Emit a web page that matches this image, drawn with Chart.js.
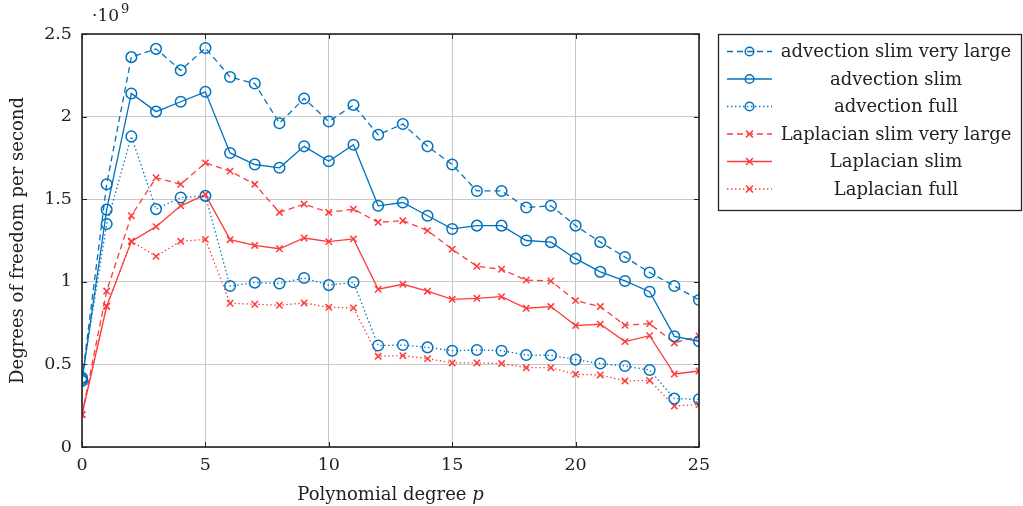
<!DOCTYPE html>
<html>
<head>
<meta charset="utf-8">
<script src="https://cdn.jsdelivr.net/npm/chart.js@4"></script>
<style>
  html, body { margin: 0; padding: 0; background: #fff; }
  #wrap { width: 1023px; height: 506px; }
</style>
</head>
<body>
<div id="wrap"><canvas id="dofChart" width="1023" height="506"></canvas></div>
<script>
// values in units of 1e9 DoF/s
const DEGREES = [0,1,2,3,4,5,6,7,8,9,10,11,12,13,14,15,16,17,18,19,20,21,22,23,24,25];
const ADV_SLIM_VL = [0.41,1.59,2.36,2.41,2.28,2.415,2.24,2.20,1.96,2.11,1.97,2.07,1.89,1.955,1.82,1.71,1.55,1.55,1.45,1.46,1.34,1.24,1.15,1.056,0.975,0.89];
const ADV_SLIM    = [0.40,1.437,2.14,2.03,2.09,2.15,1.78,1.71,1.69,1.82,1.73,1.83,1.46,1.48,1.40,1.32,1.34,1.34,1.25,1.24,1.14,1.06,1.005,0.94,0.67,0.64];
const ADV_FULL    = [0.42,1.35,1.88,1.44,1.51,1.52,0.975,0.995,0.99,1.023,0.98,0.997,0.614,0.617,0.603,0.583,0.587,0.583,0.557,0.555,0.529,0.505,0.49,0.466,0.293,0.289];
const LAP_SLIM_VL = [0.196,0.944,1.40,1.63,1.59,1.72,1.67,1.59,1.42,1.47,1.42,1.44,1.36,1.37,1.31,1.197,1.094,1.076,1.01,1.005,0.886,0.85,0.737,0.747,0.63,0.672];
const LAP_SLIM    = [0.196,0.852,1.245,1.334,1.46,1.528,1.255,1.22,1.20,1.265,1.243,1.26,0.955,0.985,0.943,0.894,0.90,0.91,0.84,0.85,0.735,0.743,0.638,0.674,0.442,0.46];
const LAP_FULL    = [0.196,0.852,1.245,1.154,1.245,1.257,0.87,0.864,0.858,0.872,0.846,0.842,0.549,0.553,0.535,0.509,0.509,0.505,0.48,0.48,0.44,0.436,0.40,0.403,0.248,0.257];
const X_TICKS = [0, 5, 10, 15, 20, 25];
const Y_TICKS = [0, 0.5, 1, 1.5, 2, 2.5];

const BLUE = '#0072bd';
const RED = '#ff3a3a';
const FONT = '"DejaVu Serif", serif';
const DASH = [6, 4];
const DOT = [1.4, 2.6];

const pts = arr => arr.map((v, i) => ({ x: DEGREES[i], y: v }));

function series(label, data, color, dash, marker) {
  return {
    label, data: pts(data),
    borderColor: color, backgroundColor: 'rgba(0,0,0,0)',
    borderWidth: 1.3, borderDash: dash,
    pointStyle: marker, pointRadius: marker === 'circle' ? 5.3 : 4.5,
    pointBorderColor: color, pointBackgroundColor: 'rgba(0,0,0,0)',
    pointBorderWidth: 1.5, tension: 0,
  };
}

const datasets = [
  series('advection slim very large', ADV_SLIM_VL, BLUE, DASH, 'circle'),
  series('advection slim', ADV_SLIM, BLUE, [], 'circle'),
  series('advection full', ADV_FULL, BLUE, DOT, 'circle'),
  series('Laplacian slim very large', LAP_SLIM_VL, RED, DASH, 'crossRot'),
  series('Laplacian slim', LAP_SLIM, RED, [], 'crossRot'),
  series('Laplacian full', LAP_FULL, RED, DOT, 'crossRot'),
];

// frame, inner tick marks, exponent label, x title and the boxed legend
const decorations = {
  id: 'decorations',
  afterDatasetsDraw(chart) {
    const { ctx, chartArea: a, scales } = chart;
    ctx.save();
    ctx.strokeStyle = '#222';
    ctx.lineWidth = 1;
    X_TICKS.forEach(t => {
      const x = Math.round(scales.x.getPixelForValue(t)) + 0.5;
      ctx.beginPath(); ctx.moveTo(x, a.bottom); ctx.lineTo(x, a.bottom - 5); ctx.stroke();
      ctx.beginPath(); ctx.moveTo(x, a.top); ctx.lineTo(x, a.top + 5); ctx.stroke();
    });
    Y_TICKS.forEach(t => {
      const y = Math.round(scales.y.getPixelForValue(t)) + 0.5;
      ctx.beginPath(); ctx.moveTo(a.left, y); ctx.lineTo(a.left + 5, y); ctx.stroke();
      ctx.beginPath(); ctx.moveTo(a.right, y); ctx.lineTo(a.right - 5, y); ctx.stroke();
    });
    ctx.lineWidth = 1.6;
    ctx.strokeRect(a.left, a.top, a.right - a.left, a.bottom - a.top);

    ctx.fillStyle = '#222';
    ctx.textBaseline = 'alphabetic';
    ctx.textAlign = 'left';
    ctx.font = '17px ' + FONT;
    ctx.fillText('·10', 92, 21);
    ctx.font = '13px ' + FONT;
    ctx.fillText('9', 121, 13);

    ctx.font = '18px ' + FONT;
    const t1 = 'Polynomial degree ';
    const w1 = ctx.measureText(t1).width;
    ctx.font = 'italic 18px ' + FONT;
    const w2 = ctx.measureText('p').width;
    const x0 = (a.left + a.right) / 2 - (w1 + w2) / 2;
    ctx.font = '18px ' + FONT;
    ctx.fillText(t1, x0, 500);
    ctx.font = 'italic 18px ' + FONT;
    ctx.fillText('p', x0 + w1, 500);

    // legend
    const lx = 718, ly = 34, lw = 304, lh = 176;
    ctx.lineWidth = 1.3;
    ctx.strokeStyle = '#222';
    ctx.strokeRect(lx + 0.5, ly + 0.5, lw - 1, lh);
    ctx.font = '18px ' + FONT;
    ctx.textAlign = 'center';
    ctx.textBaseline = 'middle';
    datasets.forEach((ds, i) => {
      const y = ly + 17.5 + i * 27.5;
      ctx.strokeStyle = ds.borderColor;
      ctx.lineWidth = 1.3;
      ctx.setLineDash(ds.borderDash);
      ctx.beginPath(); ctx.moveTo(727, y); ctx.lineTo(772, y); ctx.stroke();
      ctx.setLineDash([]);
      ctx.lineWidth = 1.5;
      if (ds.pointStyle === 'circle') {
        ctx.beginPath(); ctx.arc(749.5, y, 4.3, 0, Math.PI * 2); ctx.stroke();
      } else {
        ctx.beginPath();
        ctx.moveTo(746, y - 3.5); ctx.lineTo(753, y + 3.5);
        ctx.moveTo(753, y - 3.5); ctx.lineTo(746, y + 3.5);
        ctx.stroke();
      }
      ctx.fillStyle = '#222';
      ctx.fillText(ds.label, 896, y + 1);
    });
    ctx.restore();
  },
};

new Chart(document.getElementById('dofChart'), {
  type: 'line',
  data: { datasets },
  plugins: [decorations],
  options: {
    responsive: false,
    animation: false,
    layout: { padding: { left: 0, right: 324, top: 34, bottom: 0 } },
    plugins: { legend: { display: false }, tooltip: { enabled: false } },
    scales: {
      x: {
        type: 'linear', min: 0, max: 25,
        afterBuildTicks: s => { s.ticks = X_TICKS.map(v => ({ value: v })); },
        afterFit: s => { s.height = 59; },
        grid: { color: '#c8c8c8', lineWidth: 1, drawTicks: false },
        border: { display: false },
        ticks: { color: '#222', font: { family: FONT, size: 17.5 }, padding: 8, maxRotation: 0, callback: v => String(v) },
      },
      y: {
        type: 'linear', min: 0, max: 2.5,
        afterBuildTicks: s => { s.ticks = Y_TICKS.map(v => ({ value: v })); },
        afterFit: s => { s.width = 82; },
        grid: { color: '#c8c8c8', lineWidth: 1, drawTicks: false },
        border: { display: false },
        ticks: { color: '#222', font: { family: FONT, size: 17.5 }, padding: 10, callback: v => String(v) },
        title: { display: true, text: 'Degrees of freedom per second', color: '#222', font: { family: FONT, size: 18 }, padding: { top: 8, bottom: 4 } },
      },
    },
  },
});
</script>
</body>
</html>
